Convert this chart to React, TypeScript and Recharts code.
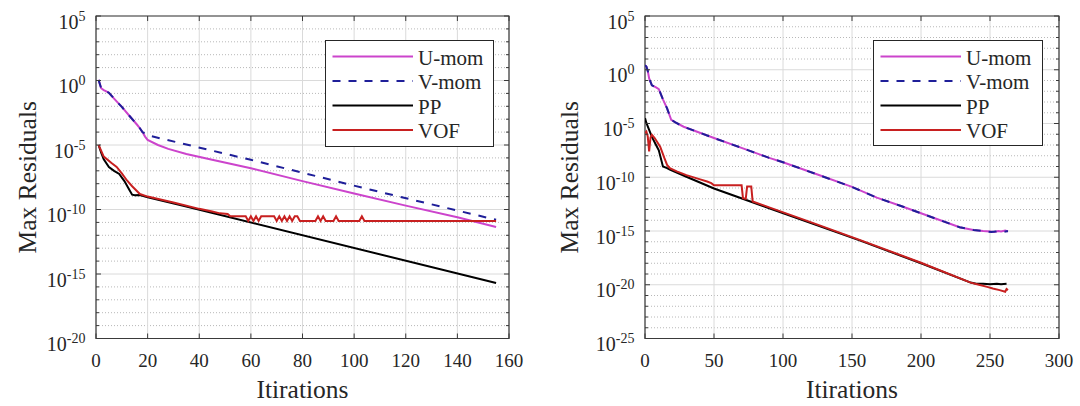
import React from 'react';
import { LineChart, Line, XAxis, YAxis, CartesianGrid, ReferenceArea, Legend } from 'recharts';

const FONT = '"Liberation Serif", "Times New Roman", Times, serif';
const TEXT = '#262626';
const AXIS = '#3a3a3a';

const SERIES_NAMES = ['U-mom', 'V-mom', 'PP', 'VOF'];
const SERIES_COLORS = ['#cc44cc', '#1f1f99', '#000000', '#c82020'];
const SERIES_DASH: (string | undefined)[] = [undefined, '8 8', undefined, undefined];

// ---------- Left panel: [iteration, log10(max residual)] ----------
const leftXTicks = [0, 20, 40, 60, 80, 100, 120, 140, 160];
const leftYMajorExp = [-20, -15, -10, -5, 0, 5];
const leftYMinorExp = [-19, -18, -17, -16, -14, -13, -12, -11, -9, -8, -7, -6, -4, -3, -2, -1, 1, 2, 3, 4];

const leftU: [number, number][] = [
  [1, 0.05], [2, -0.6], [3, -0.75], [4, -0.85], [5, -0.95], [7, -1.4], [10, -2.05], [13, -2.75],
  [16, -3.45], [17, -3.7], [18, -4.0], [19, -4.35], [20, -4.6], [24, -5.0], [28, -5.3], [35, -5.7],
  [45, -6.15], [60, -6.8], [80, -7.8], [100, -8.76], [120, -9.7], [140, -10.6], [155, -11.35],
];
const leftV: [number, number][] = [
  [1, 0.05], [2, -0.6], [3, -0.75], [4, -0.85], [5, -0.95], [7, -1.4], [10, -2.05], [13, -2.75],
  [16, -3.45], [17, -3.7], [18, -4.0], [20, -4.25], [60, -6.15], [106, -8.45], [155, -10.8],
];
const leftPP: [number, number][] = [
  [1, -5.0], [2, -5.6], [3, -6.1], [5, -6.7], [7, -7.0], [9, -7.25], [11, -7.8], [13, -8.5],
  [14, -8.85], [15, -8.9], [17, -8.88], [20, -9.05], [33, -9.67], [155, -15.7],
];
const leftVOF: [number, number][] = [
  [1, -5.0], [3, -5.9], [6, -6.4], [8, -6.7], [10, -7.2], [12, -7.75], [14, -8.2], [17, -8.8],
  [20, -9.0], [30, -9.45], [40, -9.95], [45, -10.15], [48, -10.3], [51, -10.35], [52, -10.53],
  [58, -10.53], [59, -10.89], [60, -10.53], [61, -10.89], [62, -10.53], [63, -10.89], [64, -10.53],
  [69, -10.53], [70, -10.89], [71, -10.53], [72, -10.89], [73, -10.53], [74, -10.89], [75, -10.53],
  [76, -10.89], [77, -10.53], [78, -10.53], [79, -10.89], [85, -10.89], [86, -10.53], [87, -10.89],
  [88, -10.53], [89, -10.89], [92, -10.89], [93, -10.53], [94, -10.89], [102, -10.89], [103, -10.53],
  [104, -10.89], [155, -10.89],
];

// ---------- Right panel ----------
const rightXTicks = [0, 50, 100, 150, 200, 250, 300];
const rightYMajorExp = [-25, -20, -15, -10, -5, 0, 5];
const rightYMinorExp = [-24, -23, -22, -21, -19, -18, -17, -16, -14, -13, -12, -11, -9, -8, -7, -6, -4, -3, -2, -1, 1, 2, 3, 4];

const rightU: [number, number][] = [
  [0, 0.43], [1, 0.3], [2, -0.1], [3, -0.8], [5, -1.45], [8, -1.65], [10, -1.8], [13, -2.75],
  [16, -3.6], [19, -4.65], [22, -4.9], [28, -5.3], [50, -6.35], [75, -7.5], [90, -8.2], [100, -8.6],
  [125, -9.75], [150, -10.9], [168, -11.9], [185, -12.65], [200, -13.35], [215, -14.05], [228, -14.65],
  [238, -14.9], [245, -15.0], [250, -15.05], [253, -15.1], [256, -15.0], [258, -15.05], [261, -14.95], [263, -15.05],
];
const rightV: [number, number][] = [
  [0, 0.43], [1, 0.3], [2, -0.1], [3, -0.8], [5, -1.45], [8, -1.65], [10, -1.8], [13, -2.75],
  [16, -3.6], [19, -4.65], [22, -4.9], [28, -5.3], [50, -6.35], [75, -7.5], [90, -8.2], [100, -8.6],
  [125, -9.75], [150, -10.9], [168, -11.9], [185, -12.65], [200, -13.35], [215, -14.05], [228, -14.65],
  [238, -14.9], [245, -15.0], [248, -15.05], [251, -15.1], [254, -15.05], [257, -15.0], [260, -15.08], [263, -15.0],
];
const rightPP: [number, number][] = [
  [0, -4.5], [1, -4.95], [3, -5.6], [5, -6.25], [8, -7.0], [10, -7.5], [13, -9.0], [16, -9.15],
  [18, -9.3], [30, -9.95], [50, -11.05], [90, -12.88], [156, -15.9], [200, -18.0], [236, -19.8],
  [240, -19.9], [245, -19.9], [250, -19.95], [255, -19.9], [258, -19.95], [262, -19.9],
];
const rightVOF: [number, number][] = [
  [0, -5.9], [1, -5.75], [2, -6.2], [3, -7.6], [4, -6.3], [5, -6.05], [7, -6.35], [11, -7.15],
  [14, -8.2], [16, -8.85], [18, -9.15], [23, -9.45], [30, -9.8], [40, -10.2], [45, -10.4], [48, -10.55],
  [50, -10.75], [70, -10.75], [71, -11.95], [73, -12.0], [74, -10.85], [77, -10.85], [78, -12.25],
  [90, -12.8], [120, -14.17], [156, -15.85], [200, -17.95], [236, -19.8], [242, -20.0], [248, -20.2],
  [252, -20.35], [257, -20.5], [261, -20.65], [262, -20.4], [263, -20.5],
];

const toRows = (pts: [number, number][]) => pts.map(([it, e]) => ({ it, r: Math.pow(10, e) }));

const AxisTitle = (p: any) => (
  <text
    x={p.px}
    y={p.py}
    transform={p.vert ? `rotate(-90 ${p.px} ${p.py})` : undefined}
    textAnchor="middle"
    fontFamily={FONT}
    fontSize={25.5}
    fill={TEXT}
  >
    {p.caption}
  </text>
);

const LegendBox = ({ w, h }: { w: number; h: number }) => (
  <svg width={w} height={h} style={{ display: 'block' }}>
    <rect x={0.5} y={0.5} width={w - 1} height={h - 1} fill="#ffffff" stroke="#262626" strokeWidth={1} />
    {SERIES_NAMES.map((n, i) => {
      const cy = 16.5 + i * 24.5;
      return (
        <g key={n}>
          <line x1={7.5} x2={88} y1={cy} y2={cy} stroke={SERIES_COLORS[i]} strokeWidth={2} strokeDasharray={SERIES_DASH[i]} />
          <text x={93} y={cy + 8} fontFamily={FONT} fontSize={21} fill={TEXT}>
            {n}
          </text>
        </g>
      );
    })}
  </svg>
);

interface PanelProps {
  offsetX: number;
  margin: { top: number; right: number; bottom: number; left: number };
  xMax: number;
  xTicks: number[];
  yMajor: number[];
  yMinor: number[];
  series: [number, number][][];
  legend: { x: number; y: number; w: number; h: number };
  yTitleX: number;
}

const W = 540;
const H = 406;
const YW = 80;
const XH = 60;

const Panel = ({ offsetX, margin, xMax, xTicks, yMajor, yMinor, series, legend, yTitleX }: PanelProps) => {
  const PL = margin.left + YW;
  const PR = W - margin.right;
  const PT = margin.top;
  const PB = H - margin.bottom - XH;
  const yMinE = Math.min(...yMajor);
  const yMaxE = Math.max(...yMajor);
  const allTicks = [...yMajor, ...yMinor].sort((a, b) => a - b).map((e) => Math.pow(10, e));

  const renderYTick = (props: any) => {
    const { y, payload } = props;
    const e = Math.round(Math.log10(payload.value));
    const major = yMajor.includes(e);
    const len = major ? 5 : 3;
    return (
      <g>
        <line x1={PL} x2={PL + len} y1={y} y2={y} stroke={AXIS} strokeWidth={1} />
        <line x1={PR - len} x2={PR} y1={y} y2={y} stroke={AXIS} strokeWidth={1} />
        {major && (
          <text x={PL - 10.5} y={y + 12.5} textAnchor="end" fontFamily={FONT} fontSize={20} fill={TEXT}>
            10
            <tspan dy={-8} fontSize={14}>
              {String(e)}
            </tspan>
          </text>
        )}
      </g>
    );
  };

  const renderXTick = (props: any) => {
    const { x, payload } = props;
    return (
      <g>
        <line x1={x} x2={x} y1={PB} y2={PB - 5} stroke={AXIS} strokeWidth={1} />
        <line x1={x} x2={x} y1={PT} y2={PT + 5} stroke={AXIS} strokeWidth={1} />
        <text x={x} y={PB + 28.5} textAnchor="middle" fontFamily={FONT} fontSize={19} fill={TEXT}>
          {payload.value}
        </text>
      </g>
    );
  };

  return (
    <div style={{ position: 'absolute', left: offsetX, top: 0, width: W, height: H }}>
      <LineChart width={W} height={H} margin={margin}>
        <CartesianGrid
          horizontalValues={yMinor.map((e) => Math.pow(10, e))}
          vertical={false}
          stroke="#b8b8b8"
          strokeDasharray="1 2"
        />
        <CartesianGrid
          horizontalValues={yMajor.map((e) => Math.pow(10, e))}
          verticalValues={xTicks}
          stroke="#dadada"
        />
        <XAxis
          dataKey="it"
          type="number"
          domain={[0, xMax]}
          ticks={xTicks}
          interval={0}
          allowDataOverflow
          height={XH}
          axisLine={false}
          tickLine={false}
          tick={renderXTick}
          label={<AxisTitle px={(PL + PR) / 2} py={398} caption="Itirations" />}
        />
        <YAxis
          type="number"
          scale="log"
          domain={[Math.pow(10, yMinE), Math.pow(10, yMaxE)]}
          ticks={allTicks}
          interval={0}
          allowDataOverflow
          width={YW}
          axisLine={false}
          tickLine={false}
          tick={renderYTick}
          label={<AxisTitle px={yTitleX} py={(PT + PB) / 2} vert caption="Max Residuals" />}
        />
        <ReferenceArea
          x1={0}
          x2={xMax}
          y1={Math.pow(10, yMinE)}
          y2={Math.pow(10, yMaxE)}
          fill="none"
          stroke={AXIS}
          strokeWidth={1.2}
          ifOverflow="visible"
        />
        {series.map((pts, i) => (
          <Line
            key={SERIES_NAMES[i]}
            name={SERIES_NAMES[i]}
            data={toRows(pts)}
            dataKey="r"
            type="linear"
            stroke={SERIES_COLORS[i]}
            strokeWidth={2}
            strokeDasharray={SERIES_DASH[i]}
            dot={false}
            activeDot={false}
            isAnimationActive={false}
          />
        ))}
        <Legend
          layout="horizontal"
          verticalAlign="middle"
          align="center"
          wrapperStyle={{ position: 'absolute', left: legend.x, top: legend.y, width: legend.w, height: legend.h, margin: 0, padding: 0 }}
          content={() => <LegendBox w={legend.w} h={legend.h} />}
        />
      </LineChart>
    </div>
  );
};

export default function App() {
  return (
    <div style={{ position: 'absolute', left: 0, top: 0, width: 1080, height: 406, background: '#ffffff' }}>
      <Panel
        offsetX={0}
        margin={{ top: 16, right: 31, bottom: 7.5, left: 16 }}
        xMax={160}
        xTicks={leftXTicks}
        yMajor={leftYMajorExp}
        yMinor={leftYMinorExp}
        series={[leftU, leftV, leftPP, leftVOF]}
        legend={{ x: 325, y: 40, w: 169, h: 107 }}
        yTitleX={36}
      />
      <Panel
        offsetX={540}
        margin={{ top: 16, right: 21, bottom: 7.5, left: 25 }}
        xMax={300}
        xTicks={rightXTicks}
        yMajor={rightYMajorExp}
        yMinor={rightYMinorExp}
        series={[rightU, rightV, rightPP, rightVOF]}
        legend={{ x: 333, y: 39.5, w: 170, h: 106 }}
        yTitleX={38}
      />
    </div>
  );
}
